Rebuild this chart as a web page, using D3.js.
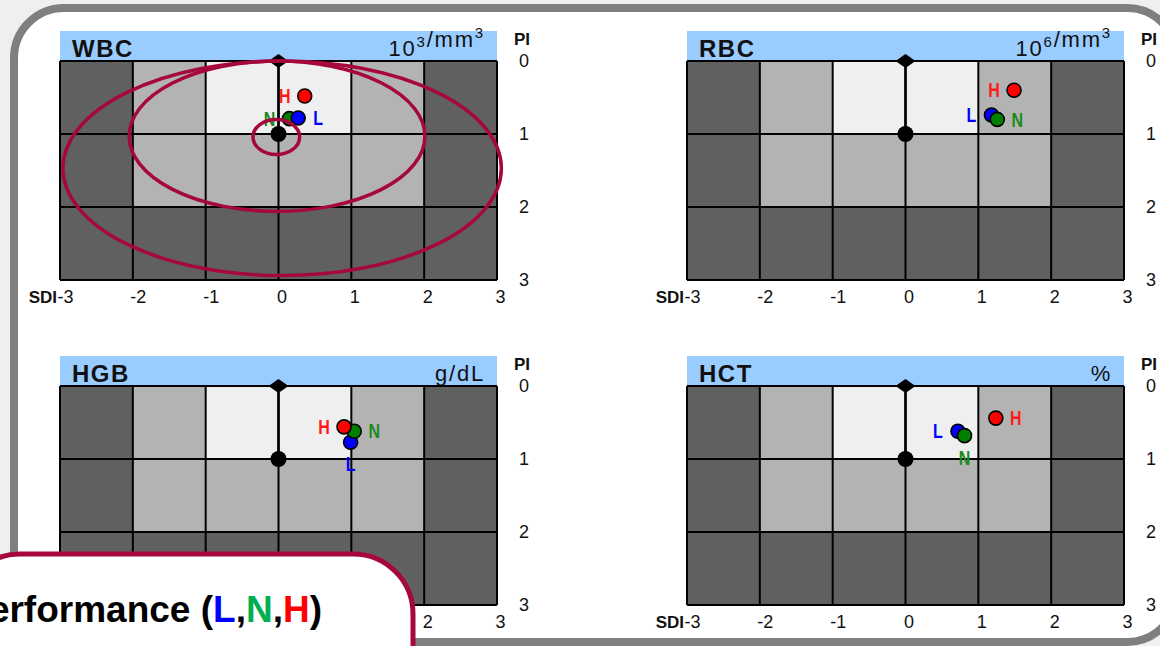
<!DOCTYPE html>
<html><head><meta charset="utf-8">
<script src="https://cdn.jsdelivr.net/npm/d3@7"></script>
<style>
html,body{margin:0;padding:0;background:#efefef;overflow:hidden}
svg{display:block;font-family:"Liberation Sans",Arial,Helvetica,sans-serif}
</style>
</head><body>
<svg id="chart" width="1160" height="646"></svg>
<script>
// ---------- data ----------
const panelNames = ["WBC", "RBC", "HGB", "HCT"];
const panelUnits = ["10^3/mm^3", "10^6/mm^3", "g/dL", "%"];
const levels = ["L", "N", "H"];
const levelColors = ["#0000ff", "#008000", "#ff0000"];
const labelColors = ["#0000ff", "#1a8a1a", "#ff1a1a"];
const sdiTicks = [-3, -2, -1, 0, 1, 2, 3];
const piTicks = [0, 1, 2, 3];

// SDI (x) and PI (y) per level L, N, H
const wbcSDI = [0.27, 0.15, 0.36];
const wbcPI  = [0.78, 0.79, 0.48];
const rbcSDI = [1.18, 1.26, 1.49];
const rbcPI  = [0.74, 0.80, 0.40];
const hgbSDI = [0.99, 1.04, 0.90];
const hgbPI  = [0.77, 0.62, 0.56];
const hctSDI = [0.72, 0.81, 1.24];
const hctPI  = [0.62, 0.68, 0.44];

// side of each point label (L, N, H)
const wbcLabelSide = ["right", "left", "left"];
const rbcLabelSide = ["left", "right", "left"];
const hgbLabelSide = ["below", "right", "left"];
const hctLabelSide = ["left", "below", "right"];

// zone bands per PI row, per SDI column
const zoneRows = [
  ["out", "warn", "good", "good", "warn", "out"],
  ["out", "warn", "warn", "warn", "warn", "out"],
  ["out", "out", "out", "out", "out", "out"]
];

// WBC highlight ellipses in SDI / PI units: [cx, cy, rx, ry]
const wbcEllipses = [
  [-0.03, 1.04, 0.32, 0.24],
  [-0.02, 1.03, 2.03, 1.03],
  [0.05, 1.47, 3.01, 1.47]
];

const legendTitle = "Performance";

const panelSDI = [wbcSDI, rbcSDI, hgbSDI, hctSDI];
const panelPI = [wbcPI, rbcPI, hgbPI, hctPI];
const panelSides = [wbcLabelSide, rbcLabelSide, hgbLabelSide, hctLabelSide];

// ---------- layout ----------
const zoneColor = {out: "#606060", warn: "#b3b3b3", good: "#efefef"};
const crimson = "#a6083c";
const gridW = 437, gridH = 219, headH = 30;
const origins = [[60, 61], [687, 61], [60, 386], [687, 386]];
const boxRight = 413, boxTop = 554;

const svg = d3.select("#chart");

// outer frame
svg.append("rect").attr("x", 14).attr("y", 8).attr("width", 1163).attr("height", 634)
  .attr("rx", 50).attr("ry", 50).attr("fill", "#ffffff")
  .attr("stroke", "#7f7f7f").attr("stroke-width", 8);

panelNames.forEach((name, pi) => {
  const [x0, y0] = origins[pi];
  const x = d3.scaleLinear().domain([-3, 3]).range([x0, x0 + gridW]);
  const y = d3.scaleLinear().domain([0, 3]).range([y0, y0 + gridH]);
  const g = svg.append("g");
  const hiddenByBox = px => y0 + gridH > boxTop && px < boxRight + 6;

  // header
  g.append("rect").attr("x", x(-3)).attr("y", y(0) - headH).attr("width", x(3) - x(-3))
    .attr("height", headH).attr("fill", "#99ccff");
  g.append("text").attr("x", x(-3) + 12).attr("y", y(0) - 4)
    .attr("font-size", 24).attr("font-weight", "bold").attr("letter-spacing", 1.5)
    .attr("fill", "#111").text(name);
  const ut = g.append("text").attr("x", x(3) - 12).attr("y", y(0) - 5)
    .attr("text-anchor", "end").attr("font-size", 22).attr("letter-spacing", 1.8).attr("fill", "#111");
  panelUnits[pi].split(/(\^\d)/).filter(s => s.length).forEach(part => {
    if (part[0] === "^") {
      ut.append("tspan").attr("font-size", 15).attr("dy", -9).text(part.slice(1));
      ut.append("tspan").attr("font-size", 22).attr("dy", 9).text("");
    } else {
      ut.append("tspan").text(part);
    }
  });

  // zone cells
  zoneRows.forEach((row, r) => {
    row.forEach((z, c) => {
      g.append("rect")
        .attr("x", x(sdiTicks[c])).attr("y", y(piTicks[r]))
        .attr("width", x(sdiTicks[c + 1]) - x(sdiTicks[c]))
        .attr("height", y(piTicks[r + 1]) - y(piTicks[r]))
        .attr("fill", zoneColor[z]);
    });
  });

  // grid lines
  g.selectAll(null).data(sdiTicks).join("line")
    .attr("x1", d => x(d)).attr("x2", d => x(d)).attr("y1", y(0)).attr("y2", y(3))
    .attr("stroke", "#000").attr("stroke-width", 2);
  g.selectAll(null).data(piTicks).join("line")
    .attr("x1", x(-3)).attr("x2", x(3)).attr("y1", d => y(d)).attr("y2", d => y(d))
    .attr("stroke", "#000").attr("stroke-width", 2);

  // target marker
  g.append("line").attr("x1", x(0)).attr("x2", x(0)).attr("y1", y(0)).attr("y2", y(1))
    .attr("stroke", "#000").attr("stroke-width", 2.5);
  g.append("path")
    .attr("d", `M${x(0) - 10},${y(0)} L${x(0)},${y(0) - 7} L${x(0) + 10},${y(0)} L${x(0)},${y(0) + 7} Z`)
    .attr("fill", "#000");
  g.append("circle").attr("cx", x(0)).attr("cy", y(1)).attr("r", 8).attr("fill", "#000");

  // x axis
  const visibleTicks = sdiTicks.filter(t => !hiddenByBox(x(t)));
  const xa = g.append("g").attr("transform", `translate(0,${y(3)})`)
    .call(d3.axisBottom(x).tickValues(visibleTicks).tickSize(0).tickPadding(10).tickFormat(d => String(d)));
  xa.select(".domain").remove();
  xa.selectAll("text").attr("font-size", 18).attr("font-family", null).attr("fill", "#111")
    .attr("dx", d => d < 0 ? 5 : 3);
  if (!hiddenByBox(x(-3))) {
    g.append("text").attr("x", x(-3) - 3).attr("y", y(3) + 23).attr("text-anchor", "end")
      .attr("font-size", 17).attr("font-weight", "bold").attr("fill", "#111").text("SDI");
  }

  // y axis (right)
  const ya = g.append("g").attr("transform", `translate(${x(3)},0)`)
    .call(d3.axisRight(y).tickValues(piTicks).tickSize(0).tickFormat(d3.format("d")));
  ya.select(".domain").remove();
  ya.selectAll("text").attr("font-size", 18).attr("font-family", null).attr("fill", "#111")
    .attr("text-anchor", "middle").attr("x", 27);
  g.append("text").attr("x", x(3) + 25).attr("y", y(0) - 16).attr("text-anchor", "middle")
    .attr("font-size", 17).attr("font-weight", "bold").attr("fill", "#111").text("PI");

  // points
  const pts = levels.map((lv, i) => ({lv, i, sdi: panelSDI[pi][i], p: panelPI[pi][i], side: panelSides[pi][i]}));
  const order = pi === 0 ? [1, 0, 2] : [0, 1, 2];
  order.forEach(i => {
    const d = pts[i];
    g.append("circle").attr("cx", x(d.sdi)).attr("cy", y(d.p)).attr("r", 7)
      .attr("fill", levelColors[i]).attr("stroke", "#000").attr("stroke-width", 1.6);
  });
  pts.forEach(d => {
    let lx = x(d.sdi), ly = y(d.p);
    if (d.side === "left") lx -= 20;
    else if (d.side === "right") lx += 20;
    else ly += 22;
    g.append("text").attr("transform", `translate(${lx},${ly}) scale(1,1.25)`)
      .attr("text-anchor", "middle").attr("dy", "0.36em")
      .attr("font-size", 16).attr("font-weight", "bold").attr("fill", labelColors[d.i]).text(d.lv);
  });

  if (pi === 0) {
    g.selectAll(null).data(wbcEllipses).join("ellipse")
      .attr("cx", d => x(d[0])).attr("cy", d => y(d[1]))
      .attr("rx", d => x(d[2]) - x(0)).attr("ry", d => y(d[3]) - y(0))
      .attr("fill", "none").attr("stroke", crimson).attr("stroke-width", 3.5);
  }
});

// overlay legend box
svg.append("rect").attr("x", -40).attr("y", boxTop).attr("width", boxRight + 40).attr("height", 200)
  .attr("rx", 60).attr("ry", 60).attr("fill", "#ffffff")
  .attr("stroke", crimson).attr("stroke-width", 5);
const lt = svg.append("text").attr("x", 322).attr("y", 622).attr("text-anchor", "end")
  .attr("font-size", 37).attr("font-weight", "bold").attr("fill", "#000");
lt.append("tspan").text(legendTitle + " (");
levels.forEach((lv, i) => {
  if (i > 0) lt.append("tspan").attr("fill", "#000").text(",");
  lt.append("tspan").attr("fill", ["#0000ff", "#00b050", "#ff0000"][i]).text(lv);
});
lt.append("tspan").attr("fill", "#000").text(")");
</script>
</body></html>
